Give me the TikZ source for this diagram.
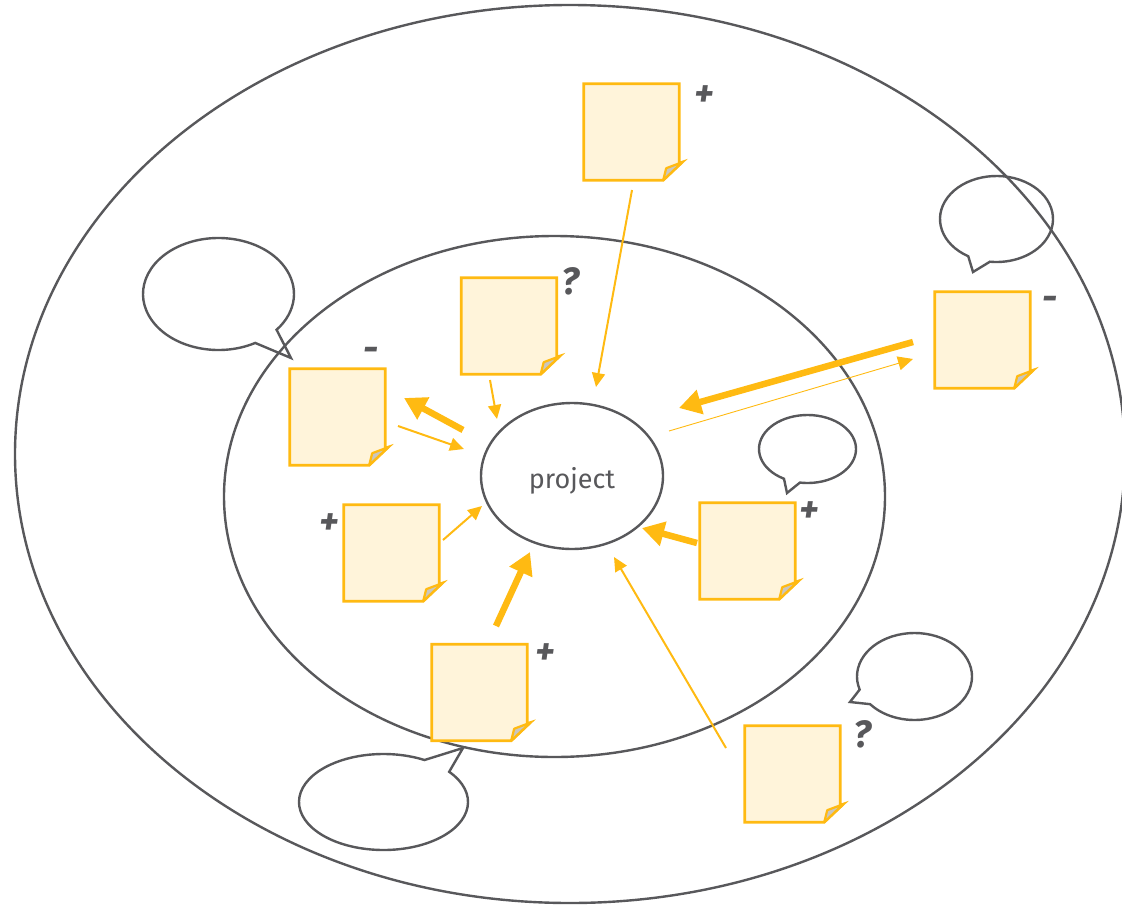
\documentclass[tikz,border=0pt]{standalone}
\usepackage{fontspec}
\setmainfont{Fira Sans}
\usetikzlibrary{arrows.meta,calc,shapes.geometric}
\definecolor{lineg}{HTML}{58585B}
\definecolor{ora}{HTML}{FFBA12}
\definecolor{cream}{HTML}{FFF4DA}
\definecolor{flapg}{HTML}{C9C6C0}
\tikzset{
 ring/.style={draw=lineg, line width=2.4pt},
 bubble/.style={draw=lineg, line width=2.4pt, line join=miter},
 notebody/.style={draw=ora, fill=cream, line width=2.8pt, line join=miter},
 flap/.style={draw=ora, fill=flapg, line width=2.2pt, line join=round},
 sign/.style={text=lineg, font=\fontsize{38}{38}\selectfont\bfseries\itshape, inner sep=0},
 thickarr/.style={draw=ora, line width=6.5pt, -{Triangle[length=22pt,width=24pt]}},
 thinarr/.style={draw=ora, line width=2pt, -{Triangle[length=14pt,width=13pt]}},
 hairarr/.style={draw=ora, line width=0.9pt, -{Triangle[length=15pt,width=14pt]}},
}
\newcommand\stickynote[2]{%
 \node[inner sep=0, minimum width=95pt, minimum height=96pt] (#1) at (#2) {};
 \draw[notebody] (#1.north west) -- (#1.north east) -- ([yshift=17pt]#1.south east)
   -- ([xshift=3pt,yshift=18pt]#1.south east) -- ([xshift=-16pt]#1.south east) -- (#1.south west) -- cycle;
 \draw[flap] ([xshift=-16pt]#1.south east) -- ([xshift=-13pt,yshift=12pt]#1.south east)
   -- ([xshift=3pt,yshift=18pt]#1.south east) -- cycle;
}
\newcommand\spbubble[7]{%
 \draw[bubble] ($(#1,#2)+(#5:#3 and #4)$) arc[start angle=#5, end angle=#6, x radius=#3, y radius=#4] -- (#7) -- cycle;
}
\begin{document}
\begin{tikzpicture}[x=1pt,y=-1pt]
\useasboundingbox (0,0) rectangle (1122,905);
% rings
\draw[ring] (570,454) ellipse [x radius=555, y radius=449];
\draw[ring] (554.5,496.5) ellipse [x radius=330.5, y radius=260.5];
\node[ring, ellipse, minimum width=182pt, minimum height=146pt, inner sep=0, text=lineg,
  font=\fontsize{27}{27}\selectfont, text depth=0pt] (project) at (572,476) {\raisebox{-3pt}{project}};
% bubbles
\spbubble{218.5}{294}{75.5}{56}{60.9}{399.7}{291,358}
\spbubble{996.5}{219}{56.5}{43}{120}{456.7}{973,272}
\spbubble{807.5}{449}{48.5}{34}{119}{459}{787,493}
\spbubble{914.5}{676.5}{57.5}{43.5}{162.5}{500.5}{850,702}
\spbubble{383.5}{802}{84.5}{48}{-39}{299}{463,748}
% notes
\stickynote{n1}{631.5,132}
\stickynote{n2}{509,326}
\stickynote{n3}{337.5,417}
\stickynote{n4}{391.5,553}
\stickynote{n5}{479.5,692.5}
\stickynote{n6}{747.5,551}
\stickynote{n7}{982.5,340}
\stickynote{n8}{792.5,774}
% signs
\node[sign] (s1) at (704,96) {+};
\node[sign] (s2) at (570,281) {?};
\node[sign] (s3) at (371,354) {-};
\node[sign] (s4) at (329,524) {+};
\node[sign] (s5) at (545,654) {+};
\node[sign] (s6) at (809,512) {+};
\node[sign] (s7) at (1050,303) {-};
\node[sign] (s8) at (862,734) {?};
% arrow end points
\coordinate (a1s) at (632,190); \coordinate (a1e) at (596,387);
\coordinate (a2s) at (490,380); \coordinate (a2e) at (497,419);
\coordinate (a3s) at (463,430); \coordinate (a3e) at (404,398);
\coordinate (a4s) at (398,426); \coordinate (a4e) at (464,449);
\coordinate (a5s) at (443,540); \coordinate (a5e) at (482,506);
\coordinate (a6s) at (496,626); \coordinate (a6e) at (530,552);
\coordinate (a7s) at (697,543); \coordinate (a7e) at (642,528);
\coordinate (a8s) at (726,748); \coordinate (a8e) at (614,557);
\coordinate (a9s) at (913,342); \coordinate (a9e) at (679,408);
\coordinate (a10s) at (669,431); \coordinate (a10e) at (913,359);
% arrows
\draw[thinarr] (a1s) -- (a1e);
\draw[thinarr] (a2s) -- (a2e);
\draw[thickarr] (a3s) -- (a3e);
\draw[thinarr] (a4s) -- (a4e);
\draw[thinarr] (a5s) -- (a5e);
\draw[thickarr] (a6s) -- (a6e);
\draw[thickarr] (a7s) -- (a7e);
\draw[thinarr] (a8s) -- (a8e);
\draw[thickarr] (a9s) -- (a9e);
\draw[hairarr] (a10s) -- (a10e);
\end{tikzpicture}
\end{document}
